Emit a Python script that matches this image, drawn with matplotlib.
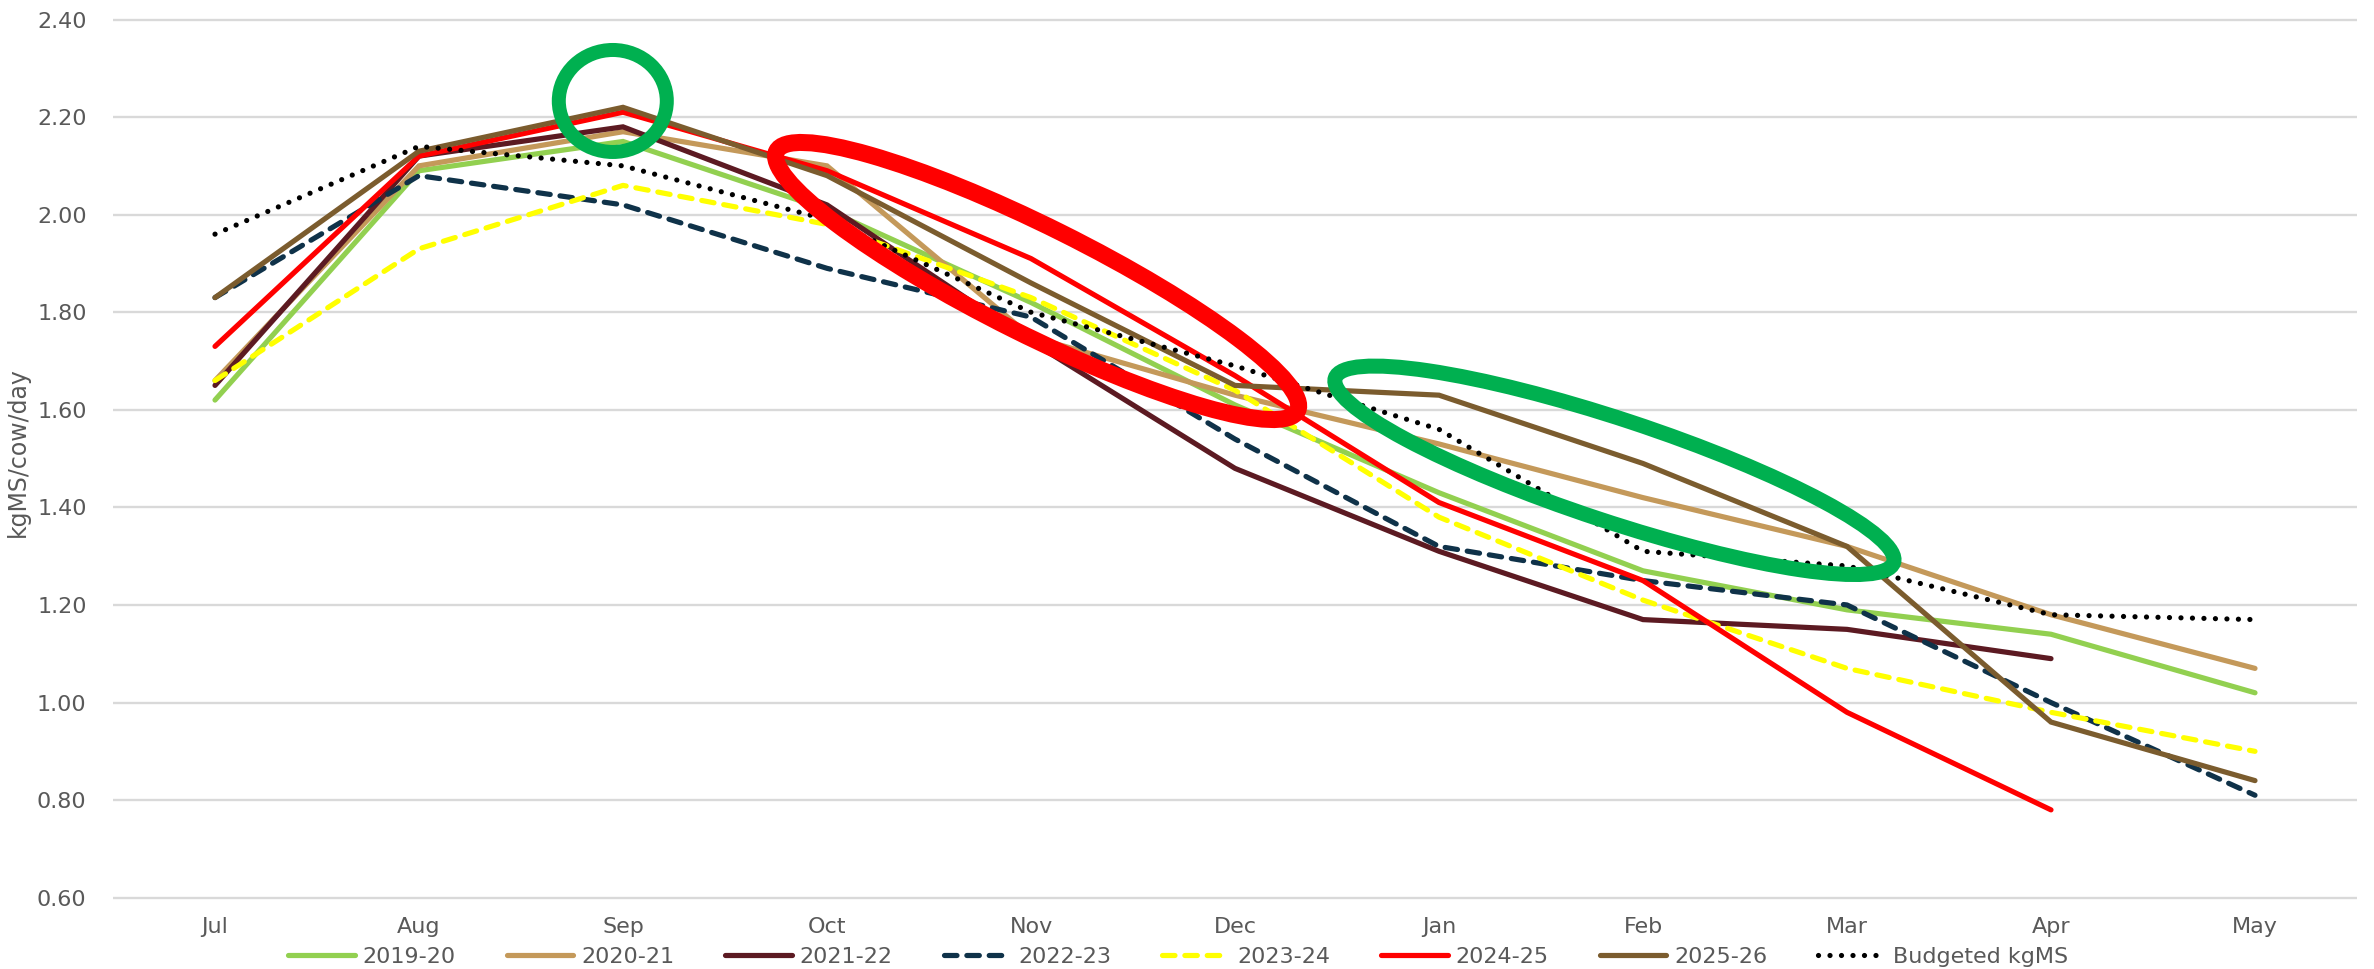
import numpy as np
import matplotlib
matplotlib.use("Agg")
import matplotlib.pyplot as plt
from matplotlib.patches import Ellipse
from matplotlib.transforms import IdentityTransform

# Milk solids per cow per day, by month of the season
months = ["Jul", "Aug", "Sep", "Oct", "Nov", "Dec",
          "Jan", "Feb", "Mar", "Apr", "May"]

s2019_20 = [1.62, 2.09, 2.15, 2.01, 1.82, 1.61, 1.43, 1.27, 1.19, 1.14, 1.02]
s2020_21 = [1.66, 2.10, 2.17, 2.10, 1.75, 1.63, 1.53, 1.42, 1.32, 1.18, 1.07]
s2021_22 = [1.65, 2.12, 2.18, 2.02, 1.74, 1.48, 1.31, 1.17, 1.15, 1.09, np.nan]
s2022_23 = [1.83, 2.08, 2.02, 1.89, 1.79, 1.54, 1.32, 1.25, 1.20, 1.00, 0.81]
s2023_24 = [1.66, 1.93, 2.06, 1.98, 1.83, 1.64, 1.38, 1.21, 1.07, 0.98, 0.90]
s2024_25 = [1.73, 2.12, 2.21, 2.09, 1.91, 1.67, 1.41, 1.25, 0.98, 0.78, np.nan]
s2025_26 = [1.83, 2.13, 2.22, 2.08, 1.86, 1.65, 1.63, 1.49, 1.32, 0.96, 0.84]
budget = [1.96, 2.14, 2.10, 1.99, 1.80, 1.69, 1.56, 1.31, 1.28, 1.18, 1.17]

series_labels = ["2019-20", "2020-21", "2021-22", "2022-23",
                 "2023-24", "2024-25", "2025-26", "Budgeted kgMS"]
series_values = [s2019_20, s2020_21, s2021_22, s2022_23,
                 s2023_24, s2024_25, s2025_26, budget]

DOTS = (0, (0.01, 2.2))
DASH = (0, (2.4, 1.9))
series_styles = [
    dict(color="#92D050", ls="-"),
    dict(color="#C4995A", ls="-"),
    dict(color="#5C1A22", ls="-"),
    dict(color="#0F3249", ls=DASH),
    dict(color="#FFFF00", ls=DASH),
    dict(color="#FF0000", ls="-"),
    dict(color="#7B5C2E", ls="-"),
    dict(color="#000000", ls=DOTS),
]

# Highlight rings: (month position, value) of the centre, then size in px
rings = [
    dict(xy=(1.95, 2.233), w=108, h=102, angle=0, color="#00B050", lw=14),
    dict(xy=(4.03, 1.864), w=582, h=108, angle=-26.5, color="#FF0000", lw=17),
    dict(xy=(6.86, 1.476), w=588, h=102, angle=-18.3, color="#00B050", lw=15),
]

plt.rcParams["font.family"] = "DejaVu Sans"
TEXT = "#595959"

W, H = 2374, 969
fig = plt.figure(figsize=(W / 100, H / 100), dpi=100)
ax = fig.add_axes([113 / W, 1 - 897.7 / H, (2357 - 113) / W, (897.7 - 19.5) / H])

x = np.arange(len(months))
lw = 5.2 * 0.72
handles = []
for label, vals, st in zip(series_labels, series_values, series_styles):
    (line,) = ax.plot(x, vals, color=st["color"], linestyle=st["ls"], lw=lw,
                      dash_capstyle="round", solid_capstyle="round",
                      solid_joinstyle="miter", label=label, zorder=3)
    handles.append(line)

yticks = np.round(np.arange(0.6, 2.41, 0.2), 2)
ax.set_xlim(-0.5, len(months) - 0.5)
ax.set_ylim(0.6, 2.4)
ax.hlines(yticks, -0.5, len(months) - 0.5, color="#D9D9D9", lw=1.7,
          clip_on=False, zorder=1)

ax.set_xticks(x)
ax.set_xticklabels(months)
ax.set_yticks(yticks)
ax.set_yticklabels([f"{v:.2f}" for v in yticks])
ax.tick_params(axis="both", length=0, labelsize=16, labelcolor=TEXT)
ax.tick_params(axis="y", pad=19)
ax.tick_params(axis="x", pad=14)
for sp in ax.spines.values():
    sp.set_visible(False)

fig.text(18 / W, 1 - 452 / H, "kgMS/cow/day", rotation=90, ha="center",
         va="center", fontsize=17, color=TEXT)

leg = fig.legend(handles=handles, labels=series_labels, loc="center",
                 bbox_to_anchor=(1178 / W, 1 - 957 / H), ncol=8,
                 frameon=False, fontsize=16, handlelength=3.0,
                 handletextpad=0.35, columnspacing=2.3)
for t in leg.get_texts():
    t.set_color(TEXT)

# rings are sized in pixels so they keep their shape on the stretched axes
for r in rings:
    cx, cy = ax.transData.transform(r["xy"])
    ax.add_artist(Ellipse((cx, cy), r["w"], r["h"], angle=r["angle"],
                          fill=False, edgecolor=r["color"],
                          lw=r["lw"] * 0.72, transform=IdentityTransform(),
                          zorder=5))

fig.savefig("out.png", dpi=100)
